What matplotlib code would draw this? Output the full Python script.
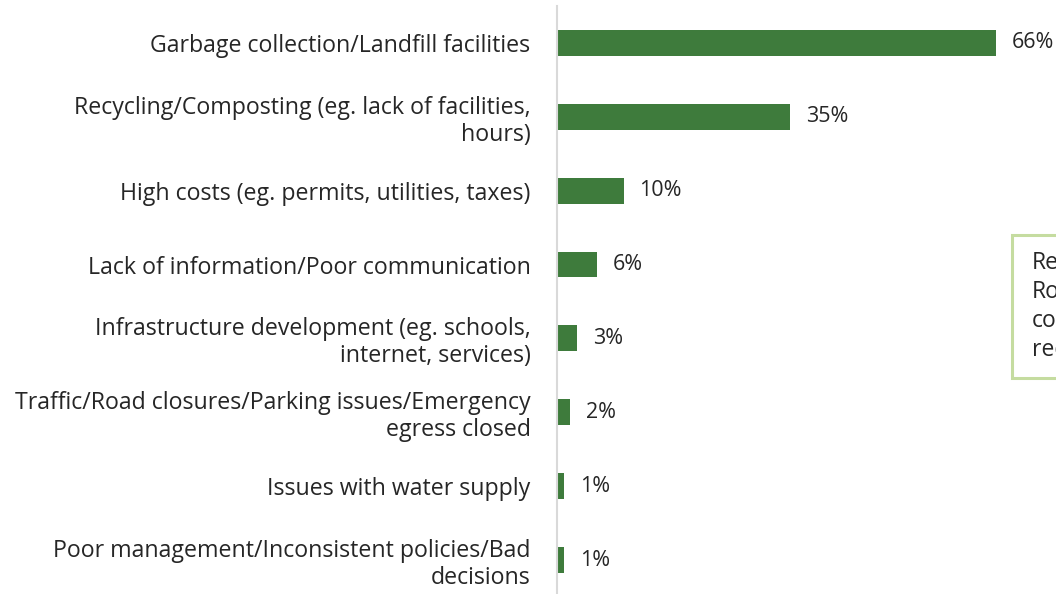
import matplotlib
matplotlib.use('Agg')
import matplotlib.pyplot as plt
from matplotlib.patches import Rectangle

# Data
categories = [
    'Garbage collection/Landfill facilities',
    'Recycling/Composting (eg. lack of facilities,\nhours)',
    'High costs (eg. permits, utilities, taxes)',
    'Lack of information/Poor communication',
    'Infrastructure development (eg. schools,\ninternet, services)',
    'Traffic/Road closures/Parking issues/Emergency\negress closed',
    'Issues with water supply',
    'Poor management/Inconsistent policies/Bad\ndecisions',
]
values = [66, 35, 10, 6, 3, 2, 1, 1]
box_lines = ['Re', 'Ro', 'co', 'rec']

W, H = 1056, 594
fig = plt.figure(figsize=(W / 100, H / 100), dpi=100)
fig.patch.set_facecolor('white')
ax = fig.add_axes([557 / W, 0, 499 / W, 588 / H])

bar_color = '#3e7b3c'
ypos = list(range(len(categories)))
ax.barh(ypos, values, height=0.35, color=bar_color)
ax.set_xlim(0, 75)
ax.set_ylim(7.46, -0.5)

for s in ['top', 'right', 'bottom']:
    ax.spines[s].set_visible(False)
ax.spines['left'].set_color('#d9d9d9')
ax.spines['left'].set_linewidth(1.5)
ax.set_xticks([])
ax.set_yticks(ypos)
ax.set_yticklabels(categories, fontsize=16.7, color='#262626',
                   family=['Open Sans', 'DejaVu Sans'], linespacing=1.15)
ax.tick_params(axis='y', length=0, pad=19)

for y, v in zip(ypos, values):
    ax.annotate(f'{v}%', (v, y), xytext=(11.5, 0), textcoords='offset points',
                ha='left', va='center', fontsize=15.5, color='#262626',
                family=['Open Sans', 'DejaVu Sans'], annotation_clip=False)

# Text box on the right edge (clipped by the figure)
box = Rectangle((1012 / W, 1 - 378 / H), 100 / W, 143 / H, transform=fig.transFigure,
                facecolor='white', edgecolor='#c5dca0', linewidth=2.2, clip_on=False)
fig.patches.append(box)
for i, t in enumerate(box_lines):
    fig.text(1032 / W, 1 - (263 + i * 29) / H, t, fontsize=16.5, color='#262626',
             ha='left', va='center', family=['Open Sans', 'DejaVu Sans'])

fig.savefig('out.png', dpi=100, facecolor='white')
